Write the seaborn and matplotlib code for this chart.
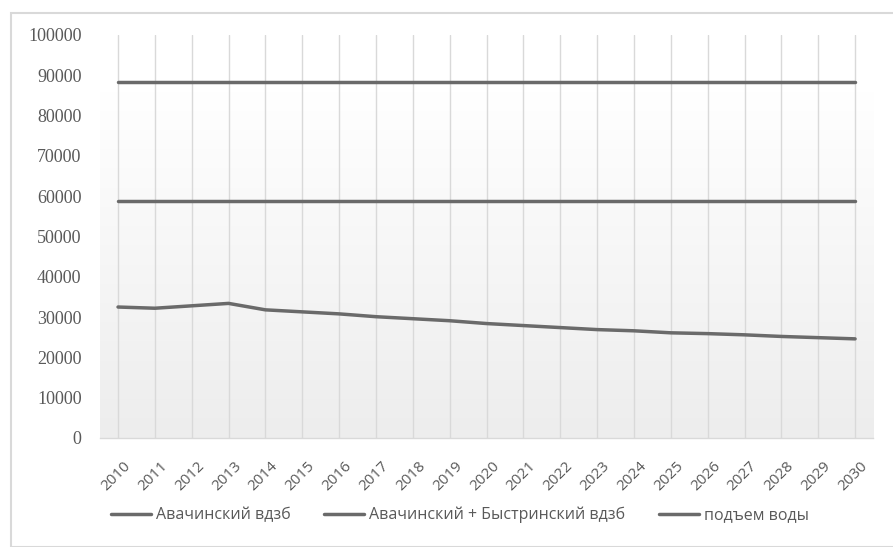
import numpy as np
import pandas as pd
import matplotlib
matplotlib.use("Agg")
import matplotlib.pyplot as plt
import matplotlib.transforms as mtransforms
from matplotlib.patches import Rectangle
import seaborn as sns

# --- data ---
years = [str(y) for y in range(2010, 2031)]
avacha = [32500, 32200, 32800, 33400, 31800, 31300, 30800, 30100, 29600, 29100,
          28400, 27900, 27400, 26900, 26600, 26100, 25900, 25600, 25200, 24900, 24600]
avacha_bystr = [58900] * len(years)
water_lift = [88300] * len(years)
series_names = ["Авачинский вдзб", "Авачинский + Быстринский вдзб", "подъем воды"]

df = pd.DataFrame({
    "year": years * 3,
    "value": avacha + avacha_bystr + water_lift,
    "series": [series_names[0]] * len(years) + [series_names[1]] * len(years)
              + [series_names[2]] * len(years),
})

sns.set_theme(style="white")
plt.rcParams["font.family"] = ["Open Sans", "DejaVu Sans"]

W, H = 893, 547
fig = plt.figure(figsize=(W / 100, H / 100), dpi=100)
ax = fig.add_axes([99.6 / W, (H - 438) / H, (873.5 - 99.6) / W, (438 - 35) / H])

# gradient background in the plot area (white at top, light grey at bottom)
grad = np.linspace(0, 1, 256).reshape(-1, 1)
cmap = matplotlib.colors.LinearSegmentedColormap.from_list("bg", ["#ededed", "#ffffff"])
ax.imshow(grad, aspect="auto", cmap=cmap, origin="lower",
          extent=(-0.5, 20.5, 0, 86000), zorder=0)

grey = "#6a6a6a"
sns.lineplot(data=df, x="year", y="value", hue="series", sort=False,
             palette=[grey, grey, grey], linewidth=2.5, ax=ax, legend=False, zorder=3)

ax.set_xlim(-0.5, 20.5)
ax.set_ylim(0, 100000)
ax.set_yticks(range(0, 100001, 10000))
ax.set_yticklabels([str(v) for v in range(0, 100001, 10000)],
                   fontfamily=["Liberation Serif", "DejaVu Serif"], fontsize=13)
ax.set_xlabel("")
ax.set_ylabel("")
ax.grid(axis="x", color="#d9d9d9", linewidth=1.0, zorder=1)
ax.grid(axis="y", visible=False)
for s in ["top", "right", "left"]:
    ax.spines[s].set_visible(False)
ax.spines["bottom"].set_color("#d9d9d9")
ax.spines["bottom"].set_linewidth(1.0)

ax.tick_params(axis="y", length=0, pad=13, labelcolor="#595959")
ax.tick_params(axis="x", length=0, pad=15, labelsize=11, labelcolor="#595959")
shift = mtransforms.ScaledTranslation(5 / 100, 0, fig.dpi_scale_trans)
for lab in ax.get_xticklabels():
    lab.set_rotation(45)
    lab.set_ha("right")
    lab.set_rotation_mode("anchor")
    lab.set_transform(lab.get_transform() + shift)

handles = [plt.Line2D([], [], color=grey, linewidth=2.5) for _ in series_names]
fig.legend(handles, series_names, loc="center", bbox_to_anchor=(460 / W, 1 - 515 / H),
           ncol=3, frameon=False, fontsize=11.5, handlelength=2.5, handletextpad=0.3,
           columnspacing=2.1, labelcolor="#595959")

# outer chart border
fig.patches.append(Rectangle((11 / W, 0), 1, 1 - 13 / H, transform=fig.transFigure,
                             fill=False, edgecolor="#d9d9d9", linewidth=1.5))

fig.savefig("out.png", dpi=100)
